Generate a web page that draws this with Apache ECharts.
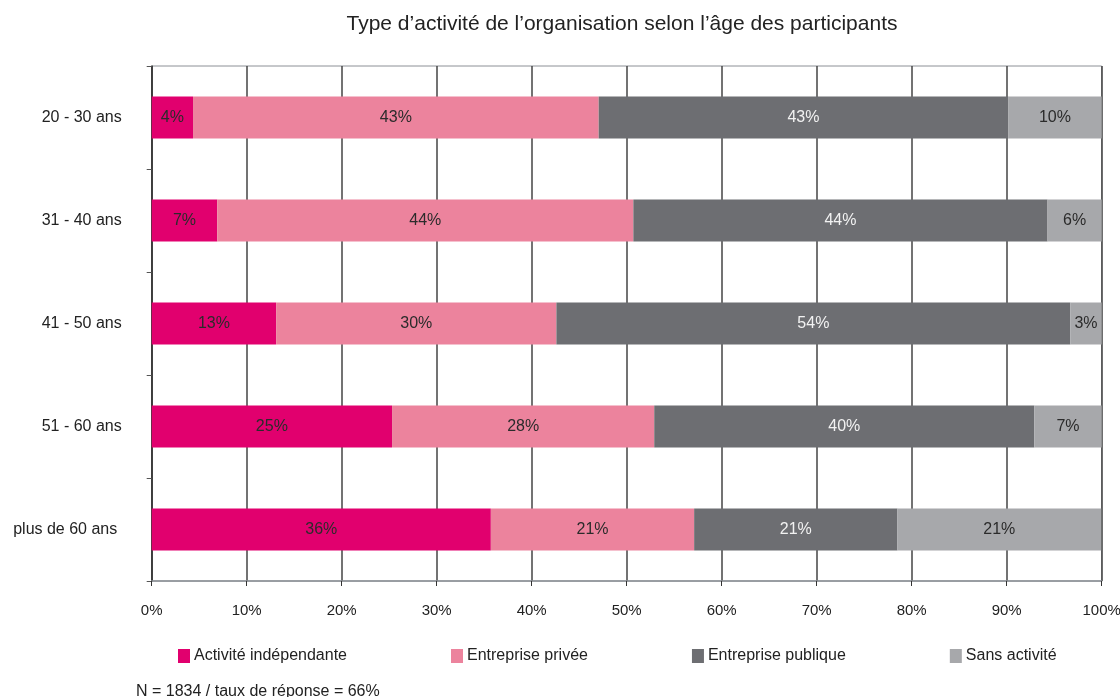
<!DOCTYPE html>
<html>
<head>
<meta charset="utf-8">
<script src="https://cdn.jsdelivr.net/npm/echarts@6/dist/echarts.min.js"></script>
<style>
  html, body { margin: 0; padding: 0; background: #fff; }
  #chart { width: 1120px; height: 697px; }
</style>
</head>
<body>
<div id="chart"></div>
<script>
// categories, top to bottom
const ageGroups = ['20 - 30 ans', '31 - 40 ans', '41 - 50 ans', '51 - 60 ans', 'plus de 60 ans '];
const seriesNames = ['Activité indépendante', 'Entreprise privée', 'Entreprise publique', 'Sans activité'];
// shares in %
const independante = [4.35, 6.9, 13.1, 25.3, 35.7];
const privee = [42.7, 43.8, 29.5, 27.6, 21.4];
const publique = [43.1, 43.6, 54.1, 40.0, 21.4];
const sansActivite = [9.85, 5.7, 3.3, 7.1, 21.45];
const xTicks = [0, 10, 20, 30, 40, 50, 60, 70, 80, 90, 100];

const colors = ['#e1006e', '#ec839d', '#6d6e72', '#a7a8ab'];
const labelColors = ['#2b2b2b', '#2b2b2b', '#f2f2f2', '#2b2b2b'];
const font = '"Liberation Sans", Arial, Helvetica, sans-serif';

const chart = echarts.init(document.getElementById('chart'));

const allData = [independante, privee, publique, sansActivite];

const option = {
    animation: false,
    color: colors,
    textStyle: { fontFamily: font },
    title: {
        text: 'Type d\u2019activité de l\u2019organisation selon l\u2019âge des participants',
        left: 617,
        textAlign: 'center',
        top: 9,
        textStyle: { fontFamily: font, fontSize: 21, fontWeight: 'normal', color: '#222' }
    },
    legend: {
        left: 178,
        top: 648,
        padding: 0,
        itemWidth: 12,
        itemHeight: 14,
        itemGap: 104,
        icon: 'rect',
        textStyle: { fontFamily: font, fontSize: 16, color: '#222', padding: [0, 0, 0, -1] },
        data: seriesNames
    },
    grid: {
        left: 151.7,
        right: 18.3,
        top: 66,
        bottom: 116,
        outerBoundsMode: 'none',
        show: true,
        borderColor: '#8c9096',
        borderWidth: 1
    },
    xAxis: {
        type: 'value',
        min: xTicks[0],
        max: xTicks[xTicks.length - 1],
        interval: 10,
        axisLine: { show: true, lineStyle: { color: '#8c9096', width: 1.5 } },
        axisTick: { show: true, length: 5, lineStyle: { color: '#333' } },
        axisLabel: {
            formatter: '{value}%',
            margin: 22,
            fontSize: 15,
            color: '#222',
            fontFamily: font
        },
        splitLine: { show: true, lineStyle: { color: '#444', width: 1.5 } }
    },
    yAxis: {
        type: 'category',
        inverse: true,
        data: ageGroups,
        axisLine: { show: true, lineStyle: { color: '#333', width: 1.5 } },
        axisTick: { show: true, length: 5, lineStyle: { color: '#555' } },
        axisLabel: { margin: 30, fontSize: 16, color: '#222', fontFamily: font }
    },
    graphic: [
        {
            type: 'text',
            left: 136,
            top: 684,
            style: { text: 'N = 1834 / taux de réponse = 66%', fontSize: 16, fill: '#222', fontFamily: font }
        }
    ],
    series: seriesNames.map(function (name, i) {
        return {
            name: name,
            type: 'bar',
            stack: 'total',
            barWidth: 42,
            data: allData[i],
            label: {
                show: true,
                position: 'inside',
                fontSize: 16,
                fontFamily: font,
                color: labelColors[i],
                formatter: function (p) { return Math.round(p.value) + '%'; }
            }
        };
    })
};

chart.setOption(option);
</script>
</body>
</html>
